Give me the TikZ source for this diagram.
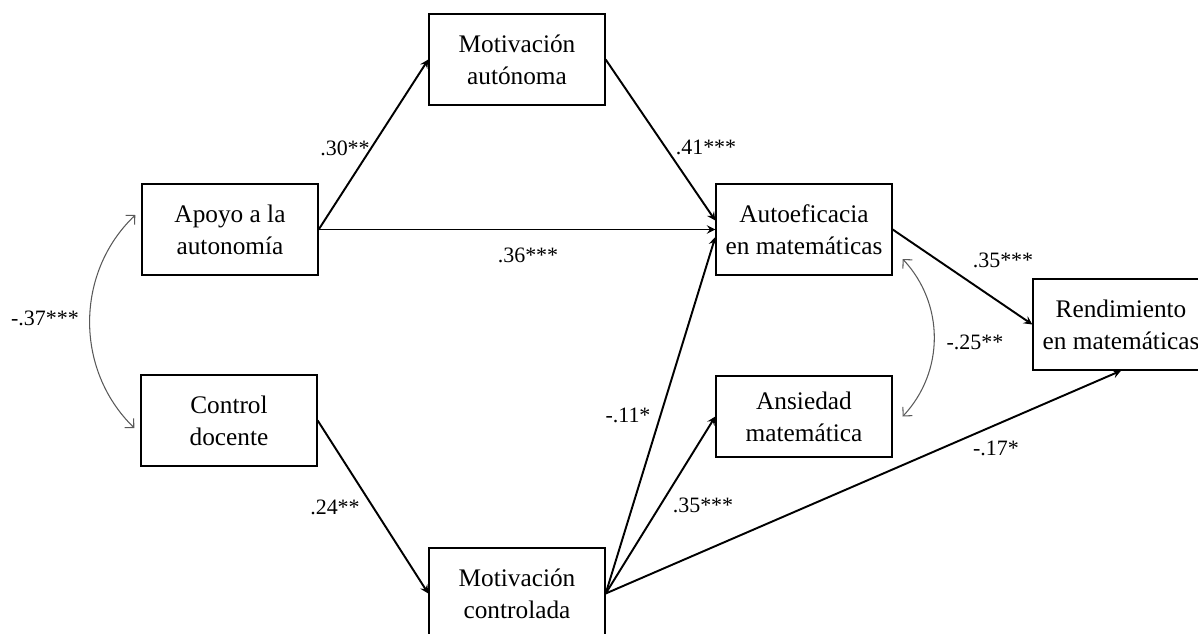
\documentclass[tikz,border=0pt]{standalone}
\usepackage{fontspec}
\setmainfont{Liberation Serif}
\usetikzlibrary{positioning,calc,arrows.meta}

\tikzset{
	var/.style={minimum width=3.52cm,minimum height=1.82cm,draw=black,line width=0.8pt,align=center,font=\fontsize{14.4}{18.2}\selectfont},
	coef/.style={font=\fontsize{12.5}{15}\selectfont},
	effect/.style={-stealth,line width=1.1pt},
	cov/.style={{Straight Barb[length=1.3mm,width=2.6mm]}-{Straight Barb[length=1.3mm,width=2.6mm]},draw=black!65,line width=0.6pt},
}

\begin{document}
\begin{tikzpicture}[x=0.02cm,y=0.02cm]
		\clip (0,0) rectangle (1198,-633);
		\node[var] (apoyo) at (230,-229.5) {Apoyo a la\\autonomía};
		\node[var] (control) at (229,-420.5) {Control\\docente};
		\node[var] (motaut) at (517,-59.5) {Motivación\\autónoma};
		\node[var] (motcon) at (517,-593.5) {Motivación\\controlada};
		\node[var] (autoef) at (804,-229.5) {Autoeficacia\\en matemáticas};
		\node[var,minimum height=1.62cm] (ansied) at (804,-416.5) {Ansiedad\\matemática};
		\node[var] (rend) at (1121,-324.5) {Rendimiento\\en matemáticas};
		
		\draw[effect] (apoyo.east)--(motaut.west);
		\draw[effect] (apoyo.east)--(autoef.west);
		\draw[effect] (motaut.east)--([yshift=0.18cm]autoef.west);
		\draw[effect] (control.east)--(motcon.west);
		\draw[effect] (motcon.east)--([yshift=-0.15cm]autoef.west);
		\draw[effect] (motcon.east)--(ansied.west);
		\draw[effect] (motcon.east)--(rend.south);
		\draw[effect] (autoef.east)--(rend.west);
		
		\draw[cov] ([xshift=-0.12cm,yshift=0.29cm]apoyo.west) to[bend right=46] ([xshift=-0.12cm,yshift=-0.15cm]control.west);
		\draw[cov] ([xshift=0.2cm,yshift=-0.59cm]autoef.east) to[bend left=43] ([xshift=0.2cm]ansied.east);
		
		\node[coef] (c30) at (345,-148) {.30**};
		\node[coef] (c36) at (528,-255) {.36***};
		\node[coef] (c41) at (706,-147) {.41***};
		\node[coef] (c35a) at (1003,-260) {.35***};
		\node[coef] (c37) at (45,-318) {-.37***};
		\node[coef] (c25) at (975,-342) {-.25**};
		\node[coef] (c11) at (628,-415) {-.11*};
		\node[coef] (c35b) at (703,-505) {.35***};
		\node[coef] (c17) at (996,-448) {-.17*};
		\node[coef] (c24) at (335,-507) {.24**};
	\end{tikzpicture}
\end{document}
